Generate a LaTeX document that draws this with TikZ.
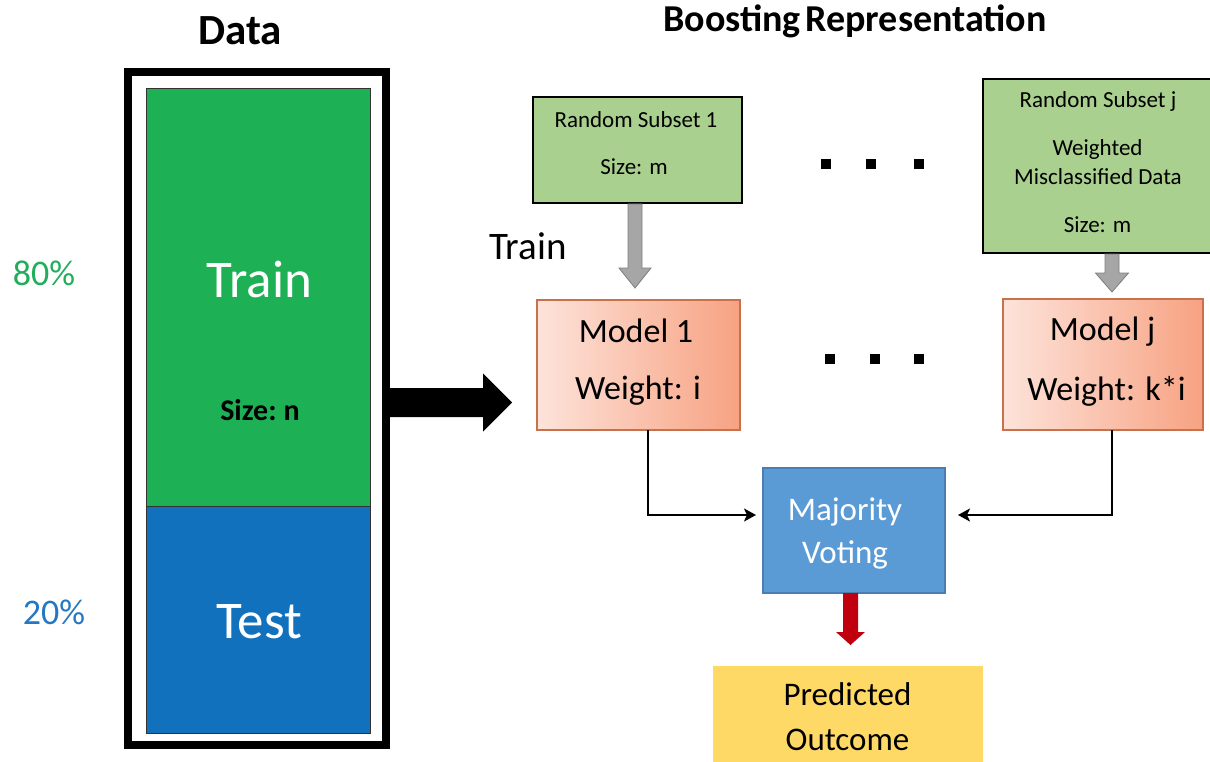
\documentclass[tikz,border=0pt]{standalone}
\usepackage{fontspec}
\setmainfont{Carlito}
\usetikzlibrary{arrows.meta,calc}
\definecolor{trgreen}{HTML}{1DB054}
\definecolor{teblue}{HTML}{1271BD}
\definecolor{pcgreen}{HTML}{22AD5A}
\definecolor{pcblue}{HTML}{2677C2}
\definecolor{subgreen}{HTML}{A9D08E}
\definecolor{arrgray}{HTML}{A6A6A6}
\definecolor{arrgrayd}{HTML}{7F7F7F}
\definecolor{modborder}{HTML}{C8714A}
\definecolor{modleft}{HTML}{FDE3DA}
\definecolor{modright}{HTML}{F7A282}
\definecolor{mvfill}{HTML}{5B9BD5}
\definecolor{mvborder}{HTML}{4A7EB0}
\definecolor{redarr}{HTML}{C0000F}
\definecolor{predfill}{HTML}{FFD966}
\newcommand{\vblockarrow}[6]{%
  \path[#1] let \p1=(#2), \p2=(#3) in
    (\x1-#4pt,\y1) -- (\x1-#4pt,\y2+#6pt) -- (\x1-#5pt,\y2+#6pt) -- (\x1,\y2)
    -- (\x1+#5pt,\y2+#6pt) -- (\x1+#4pt,\y2+#6pt) -- (\x1+#4pt,\y1) -- cycle;}
\newcommand{\hblockarrow}[6]{%
  \path[#1] let \p1=(#2), \p2=(#3) in
    (\x1,\y2+#4pt) -- (\x2-#6pt,\y2+#4pt) -- (\x2-#6pt,\y2+#5pt) -- (\x2,\y2)
    -- (\x2-#6pt,\y2-#5pt) -- (\x2-#6pt,\y2-#4pt) -- (\x1,\y2-#4pt) -- cycle;}
\tikzset{
  every node/.style={inner sep=0pt, outer sep=0pt},
  fs/.style={font=\fontsize{#1}{#1}\selectfont},
  txt/.style={anchor=base, fs=#1},
  boldtxt/.style={anchor=base, font=\fontsize{#1}{#1}\selectfont\bfseries},
  subsetbox/.style={rectangle, draw=black, line width=1.4pt, fill=subgreen},
  modelbox/.style={rectangle, draw=modborder, line width=1.6pt, left color=modleft, right color=modright},
  conn/.style={draw=black, line width=2pt, -{Stealth[length=12pt,width=13pt,inset=3pt]}},
  grayarrow/.style={fill=arrgray, draw=arrgrayd, line width=0.8pt},
  dotsq/.style={fill=black},
}
\begin{document}
\begin{tikzpicture}[x=1pt,y=-1pt]
\useasboundingbox (0,0) rectangle (1210,762);
\clip (0,0) rectangle (1210,762);
% data column
\node[rectangle, fill=trgreen, draw=black!80, line width=0.8pt, minimum width=224, minimum height=418] (train) at (258,297) {};
\node[rectangle, fill=teblue, draw=black!80, line width=0.8pt, minimum width=224, minimum height=227] (test) at (258,619.5) {};
\node[rectangle, draw=black, line width=8pt, minimum width=258, minimum height=673] (frame) at (257,408.5) {};
\node[boldtxt=43] (datatitle) at (240,45) {Data};
\node[txt=53, text=white] (traintxt) at (259.5,297) {Train};
\node[boldtxt=30] (sizen) at (260,420) {Size:\hspace{-2pt} n};
\node[txt=53, text=white] (testtxt) at (259.5,638) {Test};
\node[txt=36, text=pcgreen] (p80) at (44,285) {80\%};
\node[txt=36, text=pcblue] (p20) at (54,624) {20\%};
% boosting side
\node[boldtxt=38] (btitle) at (855,32) {Boosting\hspace{-4pt} Representation};
\node[subsetbox, minimum width=209, minimum height=106] (s1) at (637.5,150) {};
\node[txt=23] (s1a) at (636,128) {Random Subset 1};
\node[txt=23] (s1b) at (634,175) {Size: m};
\node[subsetbox, minimum width=231, minimum height=174] (sj) at (1098.5,166) {};
\node[txt=23] (sja) at (1098,108) {Random Subset j};
\node[txt=23] (sjb) at (1097.5,156) {Weighted};
\node[txt=23] (sjc) at (1098,185) {Misclassified Data};
\node[txt=23] (sjd) at (1097.5,233) {Size: m};
\node[txt=39] (trainlbl) at (528,259) {Train};
\node[modelbox, minimum width=203, minimum height=130] (m1) at (638.5,365) {};
\node[txt=34] (m1a) at (636,342) {Model 1};
\node[txt=34] (m1b) at (638,399) {Weight: i};
\node[modelbox, minimum width=200, minimum height=131] (mj) at (1103,364.5) {};
\node[txt=34] (mja) at (1102.5,340) {Model j};
\node[txt=34] (mjb) at (1106.5,400) {Weight: k*i};
\node[rectangle, fill=mvfill, draw=mvborder, line width=1.2pt, minimum width=182, minimum height=125] (mv) at (854,530.5) {};
\node[txt=33, text=white] (mva) at (845,520) {Majority};
\node[txt=33, text=white] (mvb) at (845,563) {Voting};
\node[rectangle, fill=predfill, minimum width=270, minimum height=114] (pred) at (848,723) {};
\node[txt=33] (preda) at (847.5,705) {Predicted};
\node[txt=33] (predb) at (847.5,750) {Outcome};
% dots
\foreach \x/\y in {826/164, 871/164, 919/164, 830/359, 875/359, 919/359}
  \fill[dotsq] (\x-5,\y-5) rectangle (\x+5,\y+5);
% block arrows
\coordinate (bigtip) at ($(frame.east)+(126,-6)$);
\hblockarrow{fill=black}{frame.east}{bigtip}{14.5}{29}{29}
\coordinate (g1s) at ($(s1.south)+(-2.5,1)$);
\coordinate (g1t) at ($(g1s |- m1.north)+(0,-12)$);
\vblockarrow{grayarrow}{g1s}{g1t}{7}{16}{20}
\coordinate (gjs) at ($(sj.south)+(13.5,1)$);
\coordinate (gjt) at ($(gjs |- mj.north)+(0,-7)$);
\vblockarrow{grayarrow}{gjs}{gjt}{7}{16.5}{19}
\coordinate (rs) at ($(mv.south)+(-3.5,0)$);
\coordinate (rt) at ($(rs |- pred.north)+(0,-21)$);
\vblockarrow{fill=redarr}{rs}{rt}{7.5}{14.5}{13}
% connectors
\draw[conn] ([xshift=9.5pt]m1.south) |- ([xshift=-7pt,yshift=15.5pt]mv.west);
\draw[conn] ([xshift=8.7pt]mj.south) |- ([xshift=13pt,yshift=15.5pt]mv.east);
\end{tikzpicture}
\end{document}
